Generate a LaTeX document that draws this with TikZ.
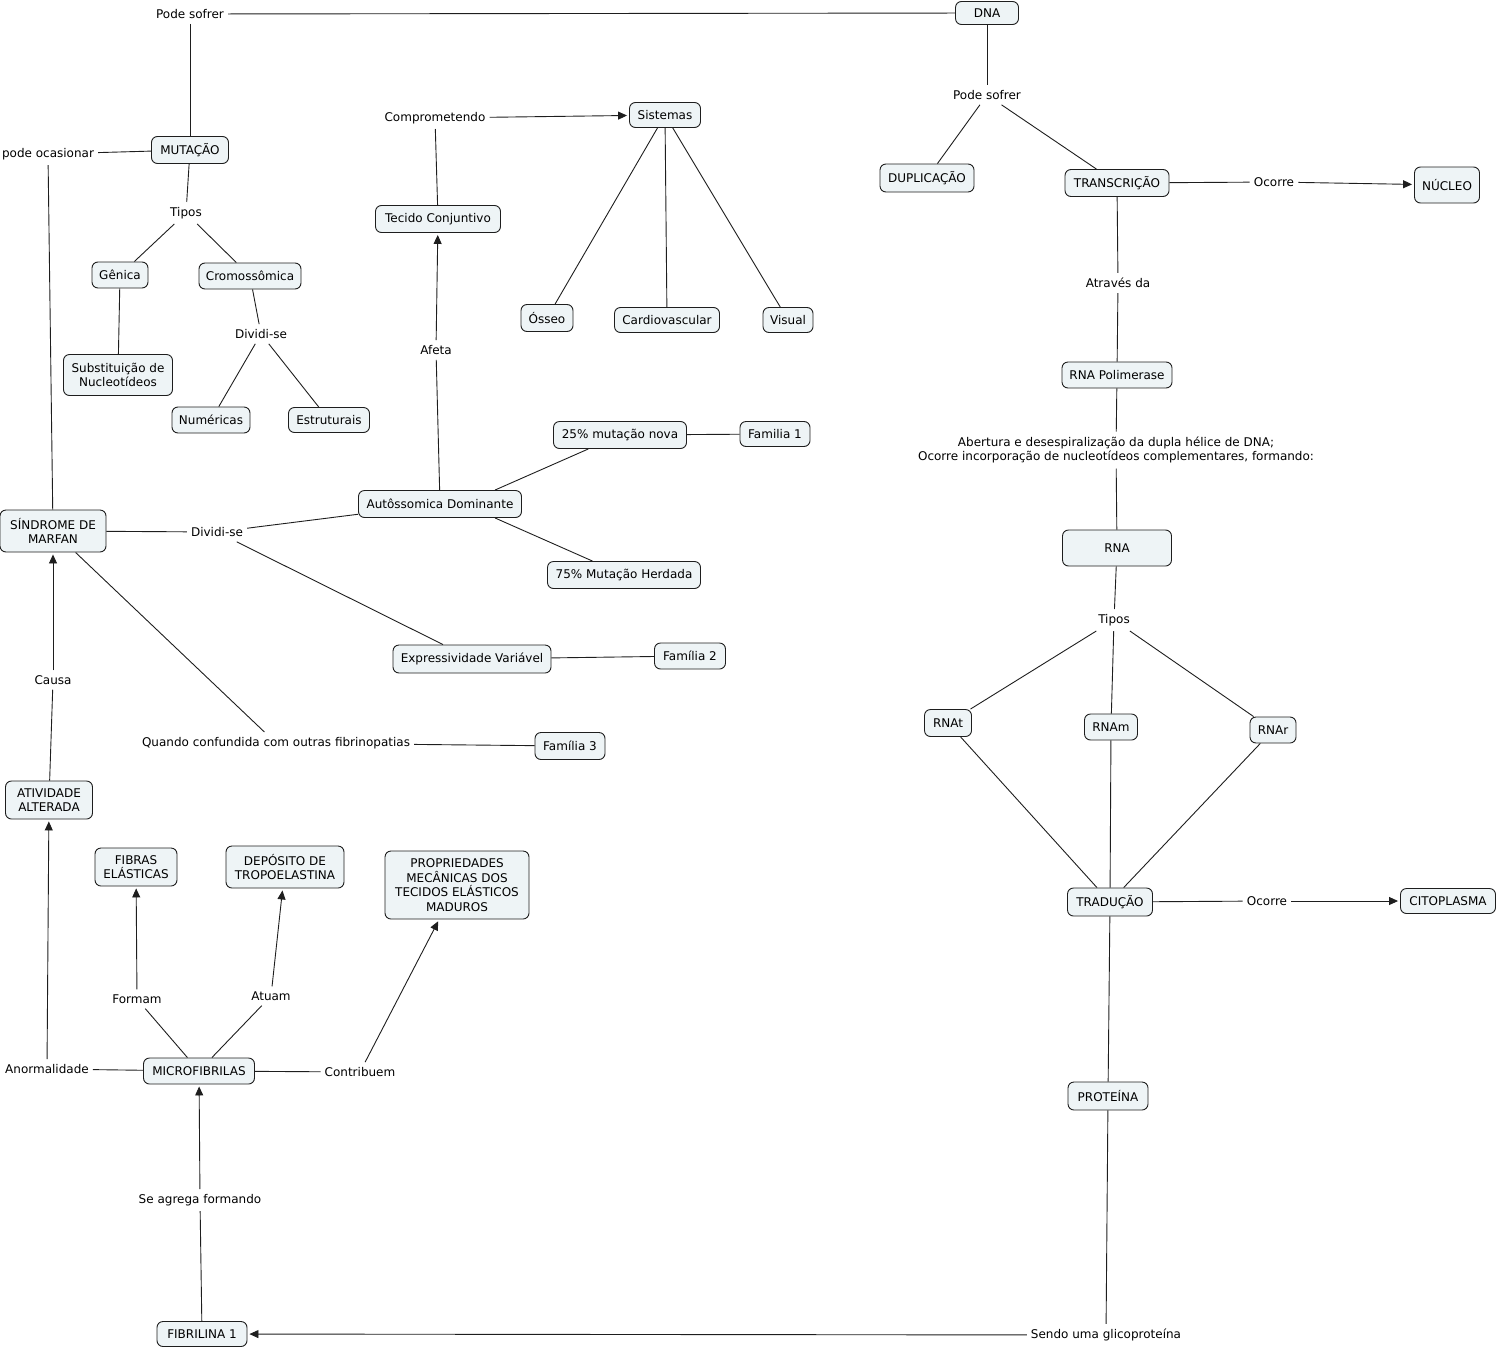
\documentclass[tikz,border=0pt]{standalone}
\usepackage{fontspec}
\setmainfont{DejaVu Sans}
\usetikzlibrary{arrows.meta}
\definecolor{cfill}{RGB}{238,244,246}
\definecolor{cline}{RGB}{30,30,30}
\tikzset{
  concept/.style={draw=cline, line width=0.9pt, fill=cfill, rounded corners=6pt, inner sep=0pt, align=center},
  lp/.style={inner xsep=4pt, inner ysep=5pt, align=center},
  conn/.style={draw=cline, line width=0.9pt},
  arr/.style={conn, -{Triangle[length=9pt,width=8pt]}, shorten >=2pt}
}
\begin{document}
\begin{tikzpicture}[x=1pt,y=-1pt, font=\fontsize{12}{14.5}\selectfont]
\useasboundingbox (0,0) rectangle (1498,1349);
% concepts
\node[concept, minimum width=63, minimum height=23] (dna) at (987,13) {DNA};
\node[concept, minimum width=77, minimum height=27] (mut) at (190,150) {MUTAÇÃO};
\node[concept, minimum width=56, minimum height=26] (gen) at (120,275) {Gênica};
\node[concept, minimum width=102, minimum height=26] (crom) at (250,276) {Cromossômica};
\node[concept, minimum width=109, minimum height=41] (subs) at (118,375) {Substituição de\\Nucleotídeos};
\node[concept, minimum width=78, minimum height=26] (num) at (211,420) {Numéricas};
\node[concept, minimum width=81, minimum height=25] (estr) at (329,420) {Estruturais};
\node[concept, minimum width=125, minimum height=27] (tec) at (438,219) {Tecido Conjuntivo};
\node[concept, minimum width=71, minimum height=25] (sist) at (665,115) {Sistemas};
\node[concept, minimum width=52, minimum height=27] (oss) at (547,318) {Ósseo};
\node[concept, minimum width=105, minimum height=25] (card) at (667,320) {Cardiovascular};
\node[concept, minimum width=50, minimum height=25] (vis) at (788,320) {Visual};
\node[concept, minimum width=133, minimum height=27] (m25) at (620,435) {25\% mutação nova};
\node[concept, minimum width=70, minimum height=25] (fam1) at (775,434) {Familia 1};
\node[concept, minimum width=163, minimum height=27] (auto) at (440,504) {Autôssomica Dominante};
\node[concept, minimum width=153, minimum height=27] (m75) at (624,575) {75\% Mutação Herdada};
\node[concept, minimum width=106, minimum height=42] (smf) at (53,531) {SÍNDROME DE\\MARFAN};
\node[concept, minimum width=158, minimum height=28] (expr) at (472,659) {Expressividade Variável};
\node[concept, minimum width=71, minimum height=26] (fam2) at (690,656) {Família 2};
\node[concept, minimum width=70, minimum height=27] (fam3) at (570,746) {Família 3};
\node[concept, minimum width=87, minimum height=38] (ativ) at (49,800) {ATIVIDADE\\ALTERADA};
\node[concept, minimum width=82, minimum height=38] (fib) at (136,867) {FIBRAS\\ELÁSTICAS};
\node[concept, minimum width=118, minimum height=42] (dep) at (285,867) {DEPÓSITO DE\\TROPOELASTINA};
\node[concept, minimum width=144, minimum height=68] (prop) at (457,885) {PROPRIEDADES\\MECÂNICAS DOS\\TECIDOS ELÁSTICOS\\MADUROS};
\node[concept, minimum width=111, minimum height=26] (micro) at (199,1071) {MICROFIBRILAS};
\node[concept, minimum width=90, minimum height=25] (fibr) at (202,1334) {FIBRILINA 1};
\node[concept, minimum width=94, minimum height=28] (dup) at (927,178) {DUPLICAÇÃO};
\node[concept, minimum width=104, minimum height=27] (trans) at (1117,183) {TRANSCRIÇÃO};
\node[concept, minimum width=65, minimum height=36] (nuc) at (1447,185) {NÚCLEO};
\node[concept, minimum width=110, minimum height=26] (rnap) at (1117,375) {RNA Polimerase};
\node[concept, minimum width=109, minimum height=36] (rna) at (1117,548) {RNA};
\node[concept, minimum width=47, minimum height=27] (rnat) at (948,723) {RNAt};
\node[concept, minimum width=53, minimum height=26] (rnam) at (1111,727) {RNAm};
\node[concept, minimum width=46, minimum height=26] (rnar) at (1273,730) {RNAr};
\node[concept, minimum width=85, minimum height=28] (trad) at (1110,902) {TRADUÇÃO};
\node[concept, minimum width=95, minimum height=25] (cito) at (1448,901) {CITOPLASMA};
\node[concept, minimum width=80, minimum height=28] (prot) at (1108,1096) {PROTEÍNA};
% linking phrases
\node[lp] (l1) at (190,14) {Pode sofrer};
\node[lp] (l2) at (48,154) {pode ocasionar};
\node[lp] (l3) at (186,213) {Tipos};
\node[lp] (l4) at (261,334) {Dividi-se};
\node[lp] (l5) at (435,118) {Comprometendo};
\node[lp] (l6) at (436,350) {Afeta};
\node[lp] (l7) at (217,532) {Dividi-se};
\node[lp] (l8) at (53,680) {Causa};
\node[lp] (l9) at (276,743) {Quando confundida com outras fibrinopatias};
\node[lp] (l10) at (137,999) {Formam};
\node[lp] (l11) at (271,996) {Atuam};
\node[lp] (l12) at (47,1069) {Anormalidade};
\node[lp] (l13) at (360,1072) {Contribuem};
\node[lp] (l14) at (200,1200) {Se agrega formando};
\node[lp] (l15) at (987,95) {Pode sofrer};
\node[lp] (l16) at (1274,182) {Ocorre};
\node[lp] (l17) at (1118,283) {Através da};
\node[lp] (l18) at (1116,450) {Abertura e desespiralização da dupla hélice de DNA;\\Ocorre incorporação de nucleotídeos complementares, formando:};
\node[lp] (l19) at (1114,620) {Tipos};
\node[lp] (l20) at (1267,901) {Ocorre};
\node[lp] (l21) at (1106,1335) {Sendo uma glicoproteína};
% connectors
\draw[conn] (l1) -- (dna);
\draw[conn] (l1) -- (mut);
\draw[conn] (mut) -- (l2);
\draw[conn] (l2) -- (smf);
\draw[conn] (mut) -- (l3);
\draw[conn] (l3) -- (gen);
\draw[conn] (l3) -- (crom);
\draw[conn] (gen) -- (subs);
\draw[conn] (crom) -- (l4);
\draw[conn] (l4) -- (num);
\draw[conn] (l4) -- (estr);
\draw[conn] (tec) -- (l5);
\draw[arr] (l5) -- (sist);
\draw[conn] (sist) -- (oss);
\draw[conn] (sist) -- (card);
\draw[conn] (sist) -- (vis);
\draw[conn] (auto) -- (l6);
\draw[arr] (l6) -- (tec);
\draw[conn] ([xshift=55]auto.north) -- (m25);
\draw[conn] (m25) -- (fam1);
\draw[conn] ([xshift=55]auto.south) -- (m75);
\draw[conn] (smf) -- (l7);
\draw[conn] (l7) -- (auto);
\draw[conn] (l7) -- (expr);
\draw[conn] (expr) -- (fam2);
\draw[conn] (smf) -- (l9);
\draw[conn] (l9) -- (fam3);
\draw[conn] (ativ) -- (l8);
\draw[arr] (l8) -- (smf);
\draw[conn] (micro) -- (l12);
\draw[arr] (l12) -- (ativ);
\draw[conn] (micro) -- (l10);
\draw[arr] (l10) -- (fib);
\draw[conn] (micro) -- (l11);
\draw[arr] (l11) -- (dep);
\draw[conn] (micro) -- (l13);
\draw[arr] (l13) -- (prop);
\draw[conn] (fibr) -- (l14);
\draw[arr] (l14) -- (micro);
\draw[conn] (prot) -- (l21);
\draw[arr] (l21) -- (fibr);
\draw[conn] (dna) -- (l15);
\draw[conn] (l15) -- (dup);
\draw[conn] (l15) -- (trans);
\draw[conn] (trans) -- (l16);
\draw[arr] (l16) -- (nuc);
\draw[conn] (trans) -- (l17);
\draw[conn] (l17) -- (rnap);
\draw[conn] (rnap) -- (l18);
\draw[conn] (l18) -- (rna);
\draw[conn] (rna) -- (l19);
\draw[conn] (l19) -- (rnat);
\draw[conn] (l19) -- (rnam);
\draw[conn] (l19) -- (rnar);
\draw[conn] (rnat) -- (trad);
\draw[conn] (rnam) -- (trad);
\draw[conn] (rnar) -- (trad);
\draw[conn] (trad) -- (l20);
\draw[arr] (l20) -- (cito);
\draw[conn] (trad) -- (prot);
\end{tikzpicture}
\end{document}
